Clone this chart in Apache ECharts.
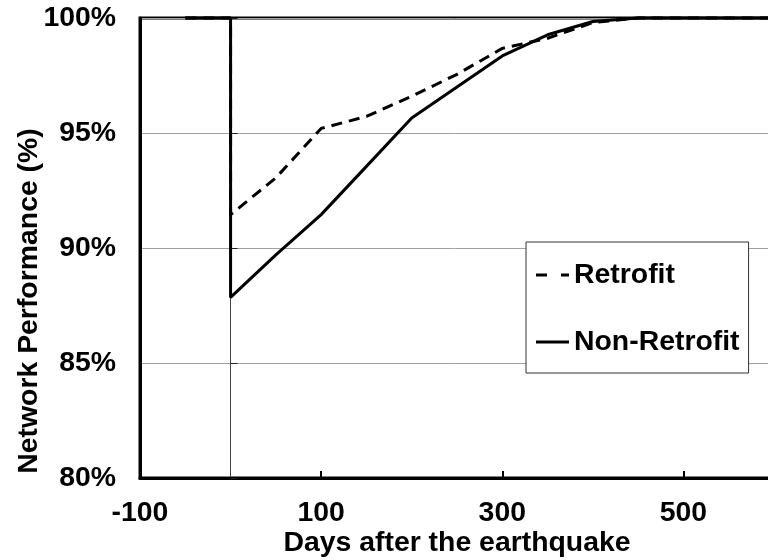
<!DOCTYPE html>
<html>
<head>
<meta charset="utf-8">
<script src="https://cdn.jsdelivr.net/npm/echarts@6/dist/echarts.min.js"></script>
<style>html,body{margin:0;padding:0;background:#fff;}#c{width:768px;height:560px;}</style>
</head>
<body>
<div id="c"></div>
<script>
const days = [-50, 0, 0, 50, 100, 150, 200, 250, 300, 350, 400, 450, 500, 550, 600];
const nonRetrofit = [100, 100, 87.85, 89.7, 91.45, 93.55, 95.65, 97.0, 98.35, 99.27, 99.85, 100, 100, 100, 100];
const retrofit = [100, 100, 91.45, 93.05, 95.2, 95.72, 96.6, 97.55, 98.68, 99.12, 99.8, 100, 100, 100, 100];
const xTickLabels = [-100, 100, 300, 500];

const FONT = "'Liberation Sans', Arial, sans-serif";
const txt = { fontFamily: FONT, fontWeight: 'bold', fontSize: 28.4, color: '#000' };

const chart = echarts.init(document.getElementById('c'), null, { renderer: 'canvas' });
chart.setOption({
  animation: false,
  backgroundColor: '#fff',
  grid: { left: 140, top: 18, right: -6, bottom: 82, containLabel: false, outerBoundsMode: 'none', show: true, borderColor: '#000', borderWidth: 3, backgroundColor: 'transparent' },
  legend: {
    orient: 'vertical', left: 526, top: 242,
    padding: [19, 9, 17, 10], itemGap: 39, itemWidth: 33, itemHeight: 3,
    borderColor: '#333', borderWidth: 1, backgroundColor: '#fff',
    textStyle: txt,
    data: [
      { name: 'Retrofit', icon: 'path://M0,0H11V3H0Z M25,0H33V3H25Z' },
      { name: 'Non-Retrofit', icon: 'path://M0,0H33V3H0Z' }
    ]
  },
  xAxis: {
    type: 'value', min: -100, max: 600, interval: 100,
    name: 'Days after the earthquake', nameLocation: 'middle', nameGap: 51, nameMoveOverlap: false,
    nameTextStyle: txt,
    axisLine: { onZero: false, lineStyle: { color: '#000', width: 3 } },
    axisTick: { inside: true, length: 7, customValues: xTickLabels, lineStyle: { color: '#000', width: 2 } },
    axisLabel: { customValues: xTickLabels, margin: 21, ...txt },
    splitLine: { show: false }
  },
  yAxis: [
    {
      type: 'value', min: 80, max: 100, interval: 5,
      name: 'Network Performance (%)', nameLocation: 'middle', nameGap: 97, nameRotate: 90, nameMoveOverlap: false,
      nameTextStyle: { ...txt, padding: [0, 106, 0, 0] },
      axisLine: { show: true, onZero: false, lineStyle: { color: '#000', width: 3 } },
      axisTick: { show: false },
      axisLabel: { margin: 24, formatter: v => v + '%', ...txt },
      splitLine: { show: true, lineStyle: { color: '#a0a0a0', width: 1 } }
    },
    {
      type: 'value', min: 80, max: 100, interval: 5, position: 'left',
      axisLine: { show: true, onZero: true, onZeroAxisIndex: 0, lineStyle: { color: '#444', width: 1 } },
      axisTick: { show: true, inside: true, length: 7, lineStyle: { color: '#222', width: 1 } },
      axisLabel: { show: false },
      splitLine: { show: false }
    }
  ],
  series: [
    {
      name: 'Retrofit', type: 'line', yAxisIndex: 0, symbol: 'none', clip: false, z: 3,
      data: days.map((d, i) => [d, retrofit[i]]),
      lineStyle: { color: '#000', width: 3, type: [11, 7] },
      itemStyle: { color: '#000' }
    },
    {
      name: 'Non-Retrofit', type: 'line', yAxisIndex: 0, symbol: 'none', clip: false, z: 4,
      data: days.map((d, i) => [d, nonRetrofit[i]]),
      lineStyle: { color: '#000', width: 3, type: 'solid' },
      itemStyle: { color: '#000' }
    }
  ]
});
</script>
</body>
</html>
